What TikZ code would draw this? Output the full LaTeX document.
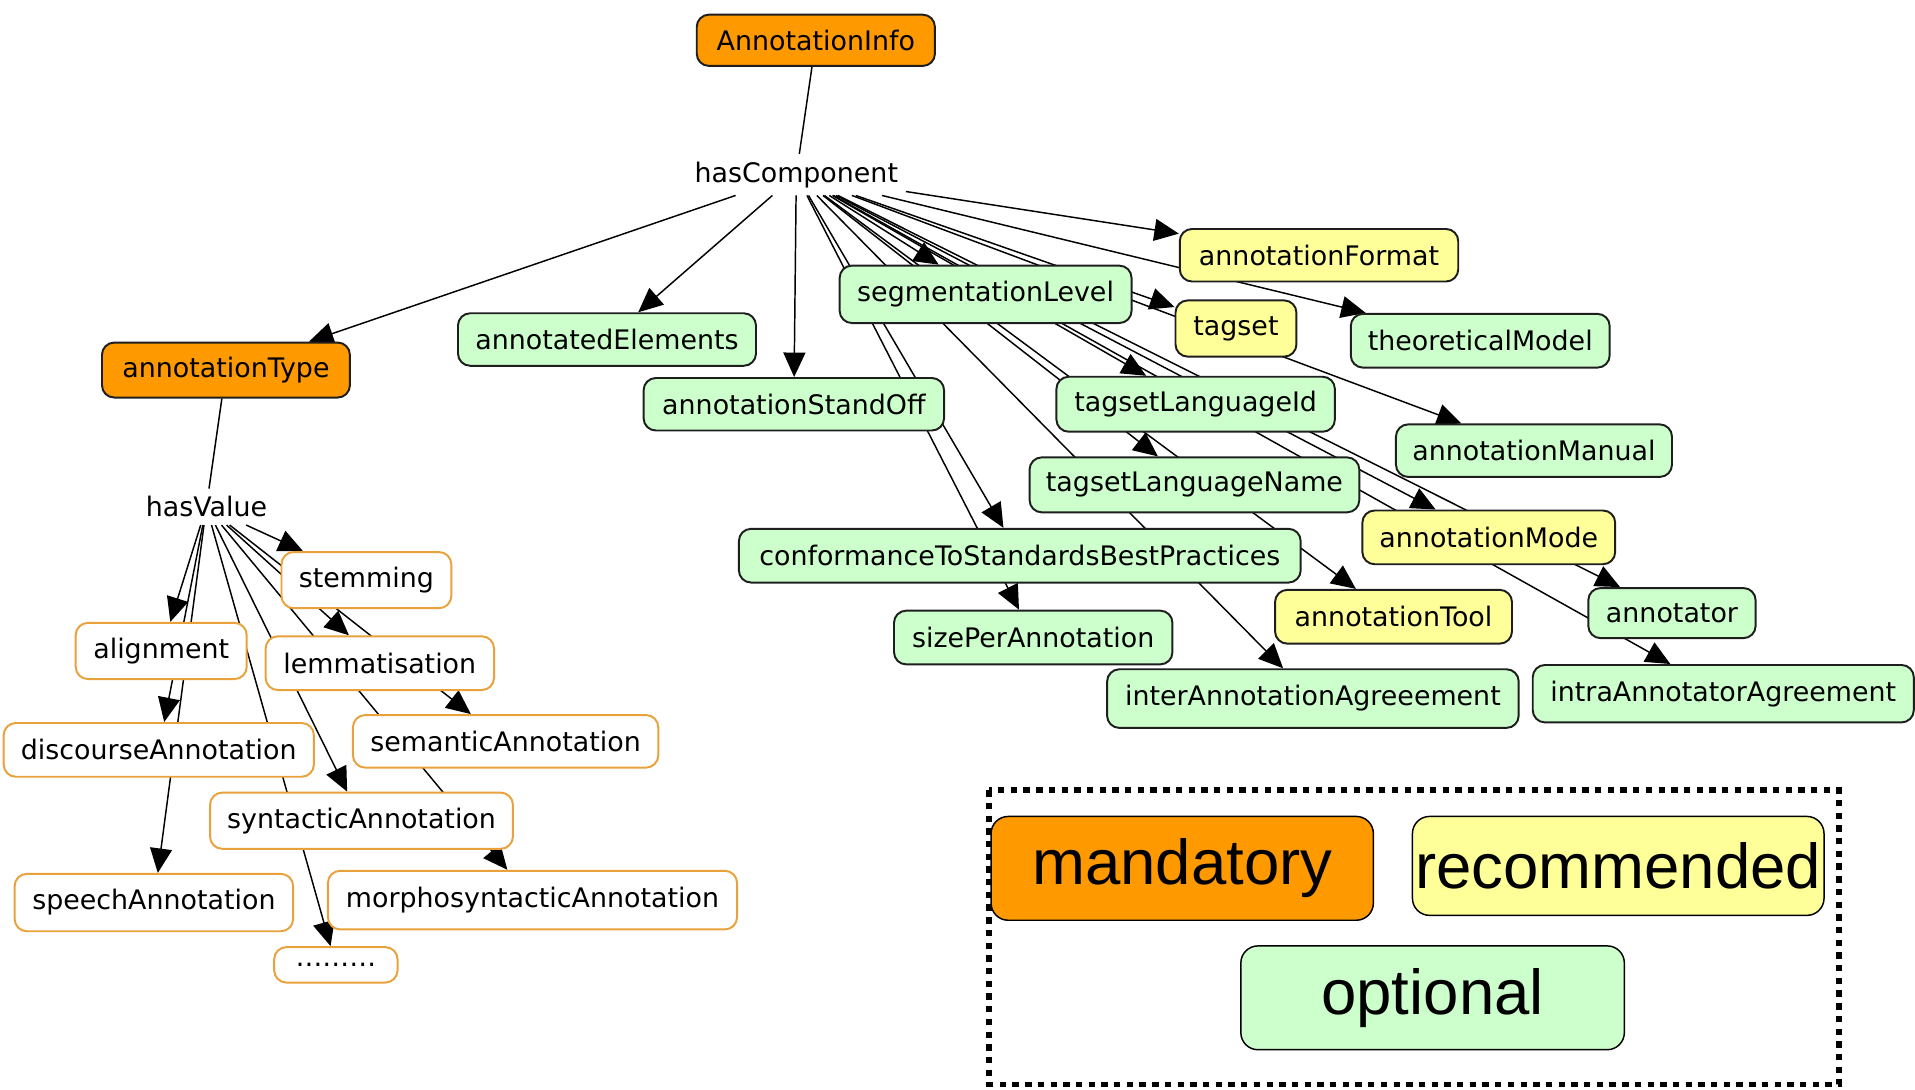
\documentclass[tikz,border=0pt]{standalone}
\usepackage{fontspec}
\setmainfont{DejaVu Sans}
\newfontfamily\legendfont{Liberation Sans}
\usetikzlibrary{arrows.meta}
\pgfdeclarelayer{background}
\pgfsetlayers{background,main}
\definecolor{mand}{HTML}{FF9900}
\definecolor{reco}{HTML}{FFFF99}
\definecolor{opti}{HTML}{CCFFCC}
\definecolor{valborder}{HTML}{E9A23B}
\definecolor{nodeborder}{HTML}{1E1E1E}
\begin{document}
\begin{tikzpicture}[x=0.5pt,y=-0.5pt,
  sz/.style 2 args={minimum width=#1*0.5pt, minimum height=#2*0.5pt},
  base/.style={rounded corners=5pt, line width=0.8pt, font=\fontsize{11}{13}\selectfont, inner sep=0pt, align=center},
  mandnode/.style={base, draw=nodeborder, fill=mand},
  reconode/.style={base, draw=nodeborder, fill=reco},
  optnode/.style={base, draw=nodeborder, fill=opti},
  valnode/.style={base, draw=valborder, fill=white},
  linklabel/.style={font=\fontsize{11}{13}\selectfont, inner sep=3pt},
  link/.style={line width=0.6pt},
  arr/.style={line width=0.6pt, -{Triangle[length=10pt,width=9pt]}},
  legendnode/.style={rounded corners=7pt, line width=0.6pt, draw=black, inner sep=0pt, font=\legendfont\fontsize{26}{30}\selectfont},
  legendframe/.style={line width=2.3pt, dash pattern=on 2.6pt off 2.6pt}
]
\useasboundingbox (0,0) rectangle (1568,892);

% mandatory
\node[mandnode, sz={195}{42}] (info) at (668,33) {AnnotationInfo};
\node[mandnode, sz={203}{45}] (atype) at (185,303) {annotationType};

% link labels
\node[linklabel] (hascomp) at (652,143) {hasComponent};
\node[linklabel] (hasval) at (169,415) {hasValue};

% optional
\node[optnode, sz={244}{43}] (annel) at (497,278) {annotatedElements};
\node[optnode, sz={246}{43}] (standoff) at (650,331) {annotationStandOff};
\node[optnode, sz={239}{47}] (seglev) at (807,241) {segmentationLevel};
\node[optnode, sz={212}{44}] (theomod) at (1212,279) {theoreticalModel};
\node[optnode, sz={228}{45}] (tslid) at (979,331) {tagsetLanguageId};
\node[optnode, sz={226}{43}] (manual) at (1256,369) {annotationManual};
\node[optnode, sz={270}{45}] (tslname) at (978,397) {tagsetLanguageName};
\node[optnode, sz={460}{44}] (conform) at (835,455) {conformanceToStandardsBestPractices};
\node[optnode, sz={228}{44}] (sizeper) at (846,522) {sizePerAnnotation};
\node[optnode, sz={337}{48}] (inter) at (1075,572) {interAnnotationAgreeement};
\node[optnode, sz={137}{41}] (annotator) at (1369,502) {annotator};
\node[optnode, sz={312}{47}] (intra) at (1411,568) {intraAnnotatorAgreement};

% recommended
\node[reconode, sz={228}{43}] (format) at (1080,209) {annotationFormat};
\node[reconode, sz={99}{46}] (tagset) at (1012,269) {tagset};
\node[reconode, sz={207}{44}] (mode) at (1219,440) {annotationMode};
\node[reconode, sz={194}{44}] (tool) at (1141,505) {annotationTool};

% values
\node[valnode, sz={139}{46}] (stem) at (300,475) {stemming};
\node[valnode, sz={140}{46}] (align) at (132,533) {alignment};
\node[valnode, sz={187}{44}] (lemma) at (311,543) {lemmatisation};
\node[valnode, sz={254}{44}] (discourse) at (130,614) {discourseAnnotation};
\node[valnode, sz={250}{43}] (semantic) at (414,607) {semanticAnnotation};
\node[valnode, sz={248}{46}] (syntactic) at (296,672) {syntacticAnnotation};
\node[valnode, sz={228}{47}] (speech) at (126,739) {speechAnnotation};
\node[valnode, sz={335}{48}] (morpho) at (436,737) {morphosyntacticAnnotation};
\node[valnode, sz={101}{29}] (dots) at (275,790) {………};

% legend
\coordinate (lgA) at (810,647);
\coordinate (lgB) at (1506,888);
\draw[legendframe] (lgA) rectangle (lgB);
\node[legendnode, fill=mand, sz={313}{85}] (lgmand) at (968,711) {mandatory};
\node[legendnode, fill=reco, sz={337}{81}] (lgreco) at (1325,709) {recommended};
\node[legendnode, fill=opti, sz={314}{85}] (lgopt) at (1173,817) {optional};

\begin{pgfonlayer}{background}
\draw[link] (info) -- (hascomp);
\draw[link] (atype) -- (hasval);
\foreach \t in {atype,annel,standoff,seglev,format,theomod,tagset,tslid,manual,tslname,conform,sizeper,mode,tool,inter,annotator,intra}
  \draw[arr] (hascomp) -- (\t);
\foreach \t in {stem,align,lemma,discourse,semantic,syntactic,speech,morpho,dots}
  \draw[arr] (hasval) -- (\t);
\end{pgfonlayer}
\end{tikzpicture}
\end{document}
